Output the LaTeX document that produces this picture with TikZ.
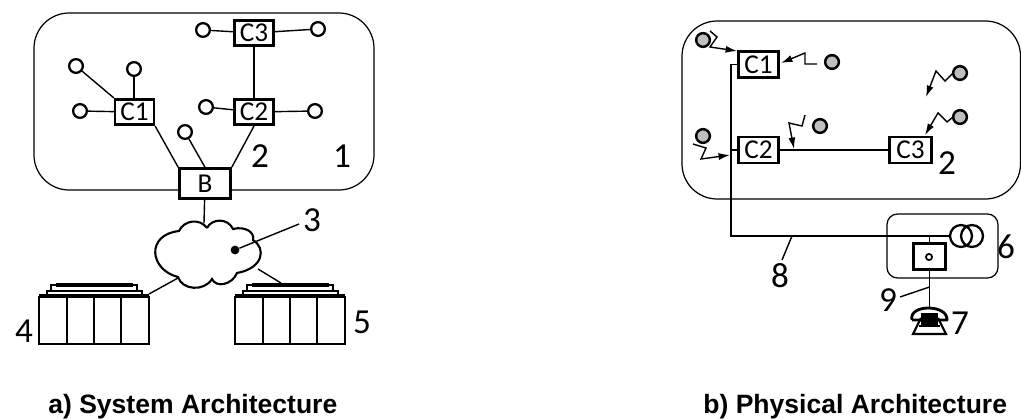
\documentclass[tikz,border=0pt]{standalone}
\usepackage{fontspec}
\setmainfont{Liberation Sans}
\newfontfamily\techfont{Carlito}
\usepackage{tikz}
\usetikzlibrary{arrows.meta}

\tikzset{
  box/.style={draw,line width=1.5pt,inner sep=0pt,font=\techfont\fontsize{15.5}{15}\selectfont},
  term/.style={draw,circle,line width=1.3pt,minimum size=7.8pt,inner sep=0pt},
  radio/.style={draw,circle,line width=1.4pt,minimum size=7.8pt,inner sep=0pt,fill=black!25},
  num/.style={font=\techfont\fontsize{20}{20}\selectfont,inner sep=0pt},
  caption/.style={font=\bfseries\fontsize{15.1}{16}\selectfont,inner sep=0pt},
  link/.style={line width=0.8pt},
  zig/.style={line width=0.8pt,-{Latex[length=6.5pt,width=4pt]}},
}

\begin{document}
\begin{tikzpicture}[x=0.02cm,y=-0.02cm]
\useasboundingbox (0,0) rectangle (1021,419);

% left side
\draw[line width=0.7pt,rounded corners=20pt] (34,13) rectangle (374,190);

\node[box,minimum width=22pt,minimum height=14.5pt] (C3) at (254,33) {C3};
\node[box,minimum width=22pt,minimum height=14.5pt] (C2) at (254,112) {C2};
\node[box,minimum width=22pt,minimum height=14.5pt] (C1) at (134.5,112) {C1};
\node[box,fill=white,minimum width=29pt,minimum height=17pt] (B) at (205,183.5) {B};

\node[term] (a1) at (76,66) {};
\node[term] (a2) at (134,69) {};
\node[term] (a3) at (80,111) {};
\node[term] (a4) at (206,107) {};
\node[term] (a5) at (315,111) {};
\node[term] (a6) at (203,30) {};
\node[term] (a7) at (318,29) {};
\node[term] (a8) at (185,132) {};

\draw[link] (a1) -- (C1.north west);
\draw[link] (a2) -- (C1.north -| a2);
\draw[link] (a3) -- (C1);
\draw[link] (a4) -- (C2);
\draw[link] (a5) -- (C2);
\draw[link] (a6) -- (C3);
\draw[link] (a7) -- (C3);
\draw[link] (C3) -- (C2);
\draw[link] (C1.south east) -- (B.north west);
\draw[link] (C2.south) -- (B.north east);
\draw[link] (a8) -- (B.north);

\node[num] (n2) at (260,156) {2};
\node[num] (n1) at (342,156) {1};

% cloud
\coordinate (CT) at (204,223);
\coordinate (CL) at (178,278);
\coordinate (CR) at (258,269);
\draw[line width=1.2pt] (207,228) .. controls (212,218) and (228,218) .. (233,229)
  .. controls (245,226) and (255,232) .. (253,240)
  .. controls (266,248) and (264,268) .. (237,273)
  .. controls (232,285) and (216,288) .. (212,279)
  .. controls (204,292) and (182,290) .. (178,277)
  .. controls (150,270) and (145,235) .. (179,231)
  .. controls (184,220) and (200,218) .. (207,228);
\draw[link] (B) -- (CT);
\node[circle,fill=black,minimum size=5pt,inner sep=0pt] (dot) at (235,250) {};
\coordinate (lead3) at (299,224);
\draw[link] (dot) -- (lead3);
\node[num] (n3) at (312,220) {3};

% racks
\foreach \name/\dx in {ra/0,rb/196}{
  \begin{scope}[xshift=\dx*0.02cm]
    \draw[line width=1.3pt] (39,297) rectangle (149,344);
    \draw[line width=1.3pt] (67,297) -- (67,344) (94,297) -- (94,344) (121,297) -- (121,344);
    \fill (39,294) rectangle (149,297);
    \draw[line width=0.9pt] (47,294) -- (47,291) -- (142,291) -- (142,294);
    \draw[line width=0.9pt] (51,291) -- (51,285) -- (137,285) -- (137,291);
    \fill (56,283) rectangle (133,286.5);
    \coordinate (\name) at (94,294);
  \end{scope}
}
\coordinate (ra1) at (149,294);
\coordinate (rb1) at (281,283);
\draw[link] (CL) -- (ra1);
\draw[link] (CR) -- (rb1);
\node[num] (n4) at (24,331) {4};
\node[num] (n5) at (362,322) {5};

\node[caption,anchor=base west] (capa) at (48,413) {a) System Architecture};

% right side
\draw[line width=0.7pt,rounded corners=20pt] (682,21) rectangle (1020.5,199);

\node[box,minimum width=23pt,minimum height=15pt] (P1) at (758.5,64.5) {C1};
\node[box,minimum width=23pt,minimum height=15pt] (P2) at (758.5,150) {C2};
\node[box,minimum width=24pt,minimum height=15pt] (P3) at (910.5,150) {C3};
\node[num] (m2) at (947,163) {2};

\coordinate (J) at (731,236);
\coordinate (K) at (731,64.5);
\coordinate (L) at (731,150);
\coordinate (M) at (950,236);
\draw[link] (P1.west) -- (K) -- (J) -- (M);
\draw[link] (P2) -- (L);
\draw[link] (P2) -- (P3);

\node[radio] (r1) at (703,40) {};
\node[radio] (r2) at (832,62) {};
\node[radio] (r3) at (960,73) {};
\node[radio] (r4) at (960,117) {};
\node[radio] (r5) at (820,126) {};
\node[radio] (r6) at (703,136) {};

\draw[zig] (710,31) -- (717,37) -- (710,47) -- (737,51);
\draw[zig] (817,64) -- (805,64) -- (805,53) -- (781,63);
\draw[zig] (953,73) -- (945,81) -- (936,71) -- (926,97);
\draw[zig] (953,117) -- (947,122) -- (938,113) -- (925,135);
\draw[zig] (805,115) -- (802,126) -- (789,123) -- (794,149);
\draw[zig] (693,144) -- (706,148) -- (701,159) -- (730,155);

% station
\draw[line width=0.7pt,rounded corners=6pt] (887,214) rectangle (998,278);
\node[draw,line width=1.5pt,minimum width=18.5pt,minimum height=15pt,inner sep=0pt] (S) at (929.5,256.5) {};
\node[draw,circle,line width=1pt,minimum size=3.5pt,inner sep=0pt] (s0) at (929,257) {};
\node[draw,circle,line width=1.3pt,minimum size=12.5pt,inner sep=0pt] (t1) at (961,236) {};
\node[draw,circle,line width=1.3pt,minimum size=12.5pt,inner sep=0pt] (t2) at (972,236) {};
\draw[link] (S.north) -- (S.north |- J);
\coordinate (tel) at (929.5,307);
\draw[link] (S.south) -- (tel);
\coordinate (l9) at (929.5,287);
\coordinate (e9) at (900,297);
\coordinate (l8) at (792,236);
\coordinate (e8) at (782,260);
\draw[link] (l9) -- (e9);
\draw[link] (l8) -- (e8);
\node[num] (m6) at (1006,247) {6};
\node[num] (m8) at (780,276) {8};
\node[num] (m9) at (888,300) {9};
\node[num] (m7) at (960,323) {7};

% phone
\draw[line width=1.6pt,line join=round] (912,320) .. controls (908,304) and (948,304) .. (947,320) -- (938,320)
  (912,320) -- (921,320);
\fill (921,313) rectangle (938,326);
\draw[line width=1.2pt] (921,318) -- (913,334) -- (946,334) -- (938,318);
\fill (919,325) rectangle (940,327);

\node[caption,anchor=base west] (capb) at (703,413) {b) Physical Architecture};
\end{tikzpicture}
\end{document}
